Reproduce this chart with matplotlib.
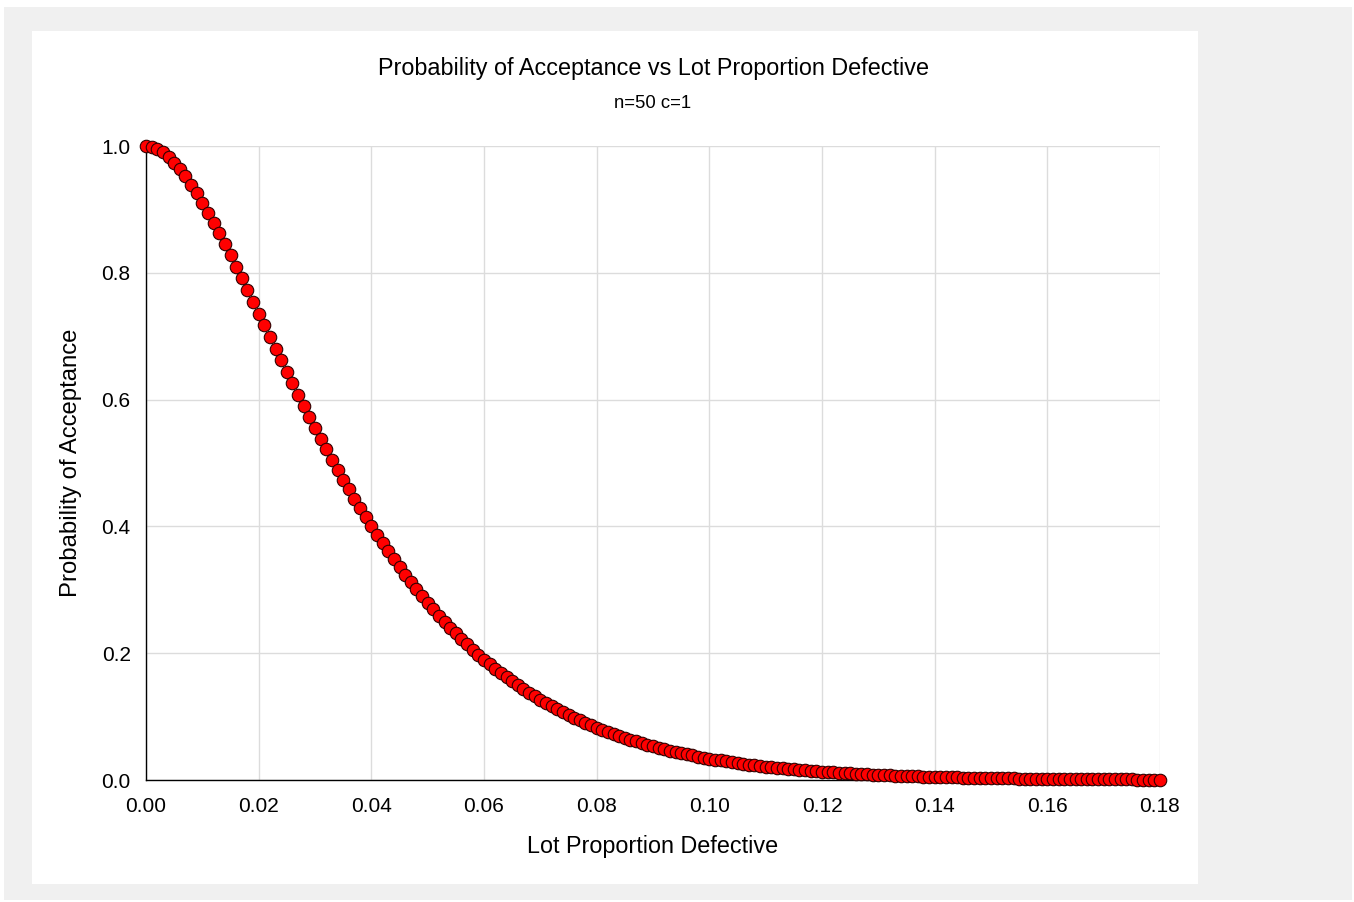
import matplotlib
matplotlib.use("Agg")
import matplotlib.pyplot as plt
from matplotlib.patches import Rectangle

# Lot proportion defective (x) and probability of acceptance (y)
lot_defective = [round(i * 0.001, 3) for i in range(181)]
prob_accept = [
    1.0000, 0.9988, 0.9954, 0.9900, 0.9827, 0.9739, 0.9635, 0.9519, 0.9391, 0.9253,
    0.9106, 0.8951, 0.8789, 0.8622, 0.8449, 0.8273, 0.8094, 0.7912, 0.7728, 0.7543,
    0.7358, 0.7172, 0.6986, 0.6801, 0.6618, 0.6435, 0.6254, 0.6076, 0.5899, 0.5725,
    0.5553, 0.5384, 0.5218, 0.5055, 0.4895, 0.4738, 0.4585, 0.4435, 0.4288, 0.4145,
    0.4005, 0.3869, 0.3736, 0.3606, 0.3480, 0.3358, 0.3238, 0.3122, 0.3010, 0.2901,
    0.2794, 0.2692, 0.2592, 0.2495, 0.2402, 0.2311, 0.2223, 0.2138, 0.2056, 0.1977,
    0.1900, 0.1826, 0.1754, 0.1685, 0.1619, 0.1554, 0.1492, 0.1432, 0.1374, 0.1319,
    0.1265, 0.1213, 0.1164, 0.1116, 0.1070, 0.1025, 0.0982, 0.0941, 0.0902, 0.0864,
    0.0827, 0.0791, 0.0758, 0.0726, 0.0695, 0.0665, 0.0636, 0.0609, 0.0582, 0.0557,
    0.0532, 0.0509, 0.0487, 0.0465, 0.0444, 0.0425, 0.0406, 0.0388, 0.0370, 0.0354,
    0.0338, 0.0323, 0.0308, 0.0294, 0.0281, 0.0268, 0.0256, 0.0244, 0.0233, 0.0222,
    0.0212, 0.0202, 0.0193, 0.0184, 0.0175, 0.0167, 0.0159, 0.0152, 0.0144, 0.0138,
    0.0131, 0.0125, 0.0119, 0.0113, 0.0108, 0.0103, 0.0098, 0.0093, 0.0089, 0.0084,
    0.0080, 0.0076, 0.0073, 0.0069, 0.0066, 0.0062, 0.0059, 0.0056, 0.0054, 0.0051,
    0.0049, 0.0046, 0.0044, 0.0042, 0.0040, 0.0038, 0.0036, 0.0034, 0.0032, 0.0031,
    0.0029, 0.0028, 0.0026, 0.0025, 0.0024, 0.0022, 0.0021, 0.0020, 0.0019, 0.0018,
    0.0017, 0.0016, 0.0015, 0.0015, 0.0014, 0.0013, 0.0013, 0.0012, 0.0011, 0.0011,
    0.0010, 0.0010, 0.0009, 0.0009, 0.0008, 0.0008, 0.0007, 0.0007, 0.0007, 0.0006,
    0.0006,
]
x_ticks = [0.00, 0.02, 0.04, 0.06, 0.08, 0.10, 0.12, 0.14, 0.16, 0.18]
x_tick_labels = ["0.00", "0.02", "0.04", "0.06", "0.08", "0.10", "0.12", "0.14", "0.16", "0.18"]
y_ticks = [0.0, 0.2, 0.4, 0.6, 0.8, 1.0]
y_tick_labels = ["0.0", "0.2", "0.4", "0.6", "0.8", "1.0"]

plt.rcParams['font.family'] = ['Liberation Sans', 'DejaVu Sans']

W, H = 1354, 902
fig = plt.figure(figsize=(W / 100, H / 100), dpi=100, facecolor="white")

# backgrounds: outer gray frame, white panel
fig.patches.append(Rectangle((4 / W, 1 - 900 / H), (1352 - 4) / W, (900 - 7) / H,
                             transform=fig.transFigure, facecolor="#f0f0f0", edgecolor="none", zorder=-10))
fig.patches.append(Rectangle((32 / W, 1 - 884 / H), (1198 - 32) / W, (884 - 31) / H,
                             transform=fig.transFigure, facecolor="white", edgecolor="none", zorder=-9))

ax = fig.add_axes([146 / W, 1 - 780 / H, (1160 - 146) / W, (780 - 146) / H])
ax.set_facecolor("white")
ax.patch.set_alpha(0)

ax.plot(lot_defective, prob_accept, linestyle="none", marker="o", markersize=9,
        markerfacecolor="#ff0000", markeredgecolor="#300000", markeredgewidth=0.8,
        clip_on=False, zorder=3)

ax.set_xlim(0, 0.18)
ax.set_ylim(0, 1.0)
ax.set_xticks(x_ticks)
ax.set_xticklabels(x_tick_labels)
ax.set_yticks(y_ticks)
ax.set_yticklabels(y_tick_labels)
ax.tick_params(axis="x", length=0, labelsize=15, pad=12, colors="#000000")
ax.tick_params(axis="y", length=0, labelsize=15, pad=11, colors="#000000")

ax.grid(True, color="#dcdcdc", linewidth=1)
ax.set_axisbelow(True)
for s in ["top", "right"]:
    ax.spines[s].set_visible(False)
for s in ["left", "bottom"]:
    ax.spines[s].set_color("#000000")
    ax.spines[s].set_linewidth(1)

ax.set_xlabel("Lot Proportion Defective", fontsize=16.8, labelpad=14)
ax.set_ylabel("Probability of Acceptance", fontsize=17.2, labelpad=14)

fig.text(653 / W, 1 - 68 / H, "Probability of Acceptance vs Lot Proportion Defective",
         ha="center", va="center", fontsize=16.8)
fig.text(653 / W, 1 - 103 / H, "n=50 c=1", ha="center", va="center", fontsize=13.3)

fig.savefig("out.png", dpi=100, facecolor="white")
